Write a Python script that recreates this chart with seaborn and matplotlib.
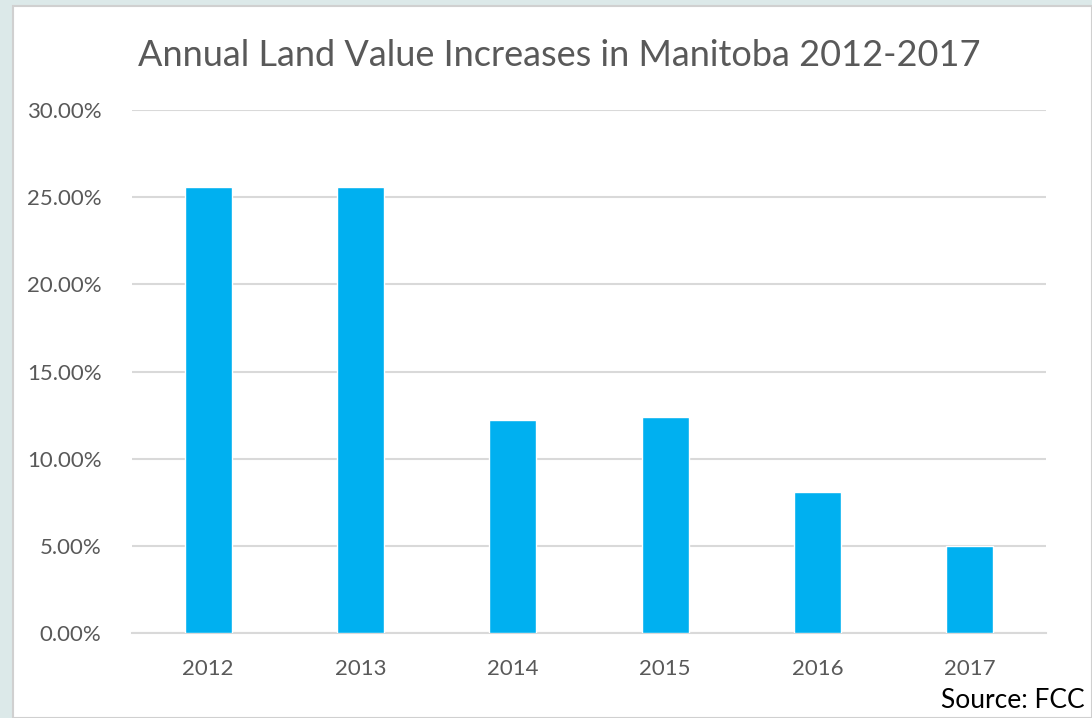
import matplotlib
matplotlib.use("Agg")
import matplotlib.pyplot as plt
import matplotlib.patches as mpatches
from matplotlib.ticker import FuncFormatter
import seaborn as sns
import pandas as pd

# Chart values
years = ["2012", "2013", "2014", "2015", "2016", "2017"]
increases = [25.6, 25.6, 12.2, 12.4, 8.1, 5.0]
y_ticks = [0, 5, 10, 15, 20, 25, 30]

df = pd.DataFrame({"Year": years, "Increase": increases})

sns.set_style("white")
plt.rcParams["font.family"] = ["Lato", "DejaVu Sans"]

fig = plt.figure(figsize=(10.92, 7.18), dpi=100, facecolor="#dce9e9")
# white slide panel behind the chart
fig.patches.append(mpatches.Rectangle((13 / 1092, 0), 1 - 13 / 1092, 1 - 6 / 718,
                                      transform=fig.transFigure, facecolor="white",
                                      edgecolor="#d0d0d0", linewidth=1.5, zorder=-5))

ax = fig.add_axes([132 / 1092, 1 - 633 / 718, 914 / 1092, 523 / 718])
ax.set_facecolor("white")
sns.barplot(data=df, x="Year", y="Increase", color="#00b0f0", width=0.31,
            saturation=1, ax=ax, zorder=3)

ax.set_ylim(0, 30)
ax.set_yticks(y_ticks)
ax.yaxis.set_major_formatter(FuncFormatter(lambda v, _: f"{v:.2f}%"))
ax.grid(axis="y", color="#d9d9d9", linewidth=1.5, zorder=0)
ax.set_axisbelow(True)
for s in ["top", "right", "left"]:
    ax.spines[s].set_visible(False)
ax.spines["bottom"].set_color("#d9d9d9")
ax.spines["bottom"].set_linewidth(1.5)
ax.tick_params(axis="both", length=0, labelsize=16, labelcolor="#595959")
ax.tick_params(axis="y", pad=22)
ax.tick_params(axis="x", pad=19)
ax.set_xlabel("")
ax.set_ylabel("")

fig.text(559 / 1092, 1 - 55 / 718, "Annual Land Value Increases in Manitoba 2012-2017",
         ha="center", va="center", fontsize=26, color="#595959")
fig.text(1085 / 1092, 1 - 700 / 718, "Source: FCC", ha="right", va="center",
         fontsize=19, color="black")

fig.savefig("out.png", dpi=100, facecolor=fig.get_facecolor())
